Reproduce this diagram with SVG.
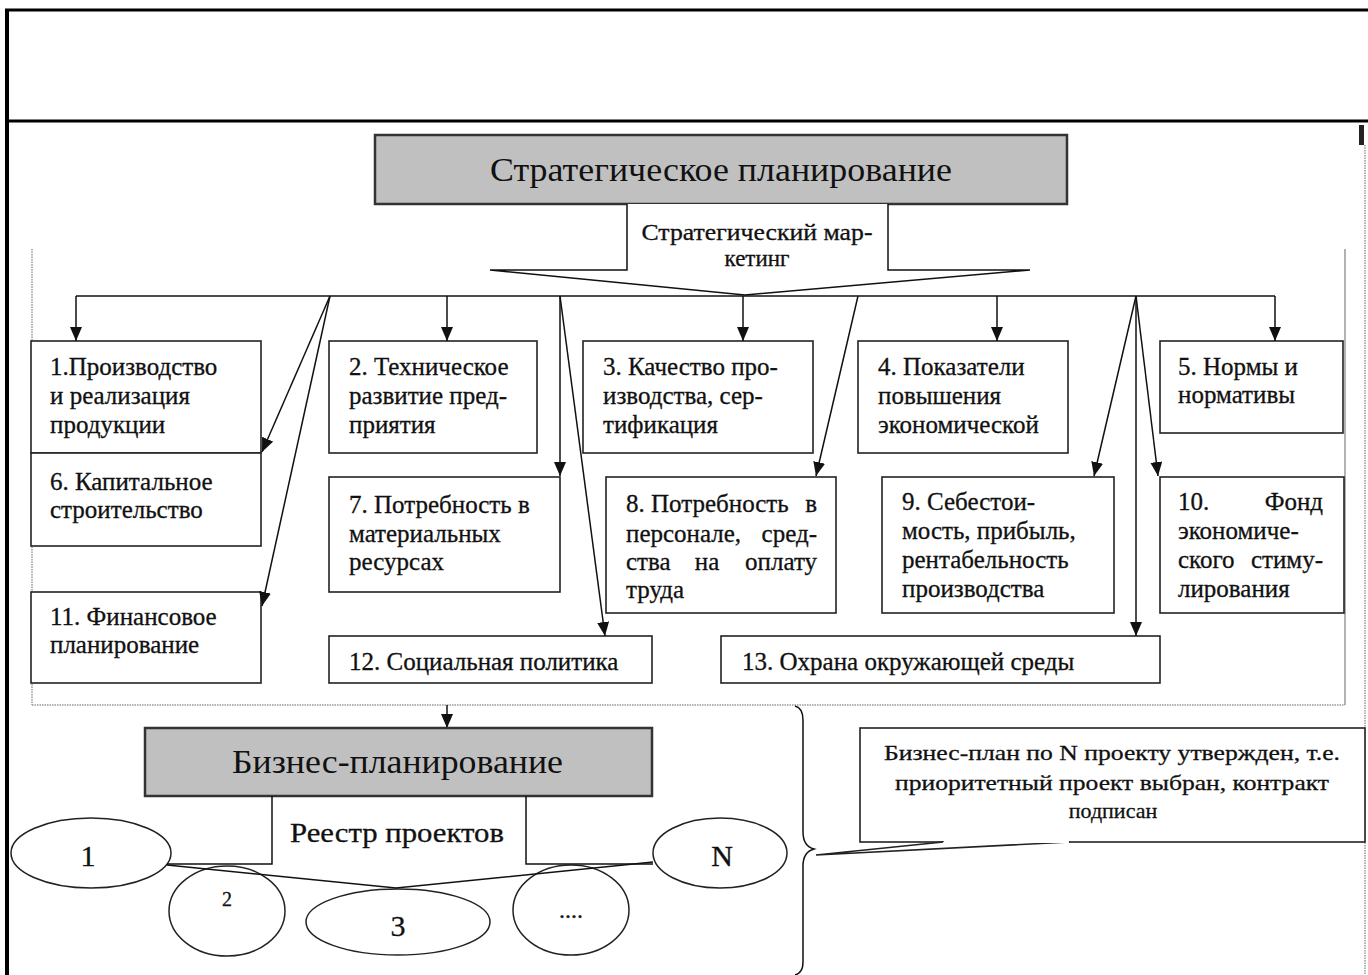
<svg xmlns="http://www.w3.org/2000/svg" width="1368" height="975" viewBox="0 0 1368 975">
<style>
.t{font-family:"Liberation Serif","Times New Roman",serif;fill:#111;font-size:25px;stroke:#111;stroke-width:0.3}
.big{font-size:34px;stroke-width:0}
.mk{font-size:23px}
.co{font-size:22px}
.box{fill:#fff;stroke:#222;stroke-width:1.6}
.gbox{fill:#c0c0c0;stroke:#333;stroke-width:2.5}
.ln{fill:none;stroke:#111;stroke-width:1.5}
.ell{fill:#fff;stroke:#222;stroke-width:1.5}
.dot{fill:none;stroke:#999;stroke-width:1.5;stroke-dasharray:1.5 1}
</style>
<defs>
<marker id="ah" viewBox="0 0 14 12" refX="14" refY="6" markerWidth="14" markerHeight="12" markerUnits="userSpaceOnUse" orient="auto">
<path d="M0,0 L14,6 L0,12 z" fill="#111"/>
</marker>
</defs>
<rect width="1368" height="975" fill="#fff"/>
<g id="frame">
<line x1="7" y1="10" x2="7" y2="975" stroke="#000" stroke-width="4"/>
<line x1="5" y1="10" x2="1368" y2="10" stroke="#000" stroke-width="3"/>
<line x1="5" y1="121" x2="1368" y2="121" stroke="#000" stroke-width="3"/>
<rect x="1359" y="125" width="5" height="20" fill="#222"/>
<line class="dot" x1="1365" y1="145" x2="1365" y2="975"/>
<line class="dot" x1="32" y1="249" x2="32" y2="705"/>
<line class="dot" x1="32" y1="705" x2="1345" y2="705"/>
<line x1="1345" y1="249" x2="1345" y2="705" stroke="#999" stroke-width="1.5"/>
</g>
<g id="strategic">
<rect class="gbox" x="375" y="135" width="692" height="69"/>
<text class="t big" x="490" y="181" textLength="462" lengthAdjust="spacingAndGlyphs">Стратегическое планирование</text>
</g>
<g id="marketing">
<path d="M627,204 V270 H490 L745,295 L1030,270 H888 V204" fill="#fff" stroke="#111" stroke-width="1.5"/>
<text class="t mk" x="757" y="240" text-anchor="middle" textLength="231" lengthAdjust="spacingAndGlyphs">Стратегический мар-</text>
<text class="t mk" x="757" y="266" text-anchor="middle">кетинг</text>
</g>
<g id="n1"><rect class="box" x="31" y="341" width="230" height="112"/>
<text class="t" x="50" y="375">1.Производство</text><text class="t" x="50" y="404">и реализация</text><text class="t" x="50" y="433">продукции</text></g>
<g id="n6"><rect class="box" x="31" y="453" width="230" height="93"/>
<text class="t" x="50" y="490">6. Капитальное</text><text class="t" x="50" y="518">строительство</text></g>
<g id="n11"><rect class="box" x="31" y="592" width="230" height="91"/>
<text class="t" x="50" y="625">11. Финансовое</text><text class="t" x="50" y="653">планирование</text></g>
<g id="n2"><rect class="box" x="329" y="341" width="208" height="112"/>
<text class="t" x="349" y="375">2. Техническое</text><text class="t" x="349" y="404">развитие пред-</text><text class="t" x="349" y="433">приятия</text></g>
<g id="n7"><rect class="box" x="329" y="477" width="231" height="115"/>
<text class="t" x="349" y="513">7. Потребность в</text><text class="t" x="349" y="542">материальных</text><text class="t" x="349" y="570">ресурсах</text></g>
<g id="n12"><rect class="box" x="329" y="636" width="323" height="47"/>
<text class="t" x="349" y="670">12. Социальная политика</text></g>
<g id="n3"><rect class="box" x="583" y="341" width="230" height="112"/>
<text class="t" x="603" y="375">3. Качество про-</text><text class="t" x="603" y="404">изводства, сер-</text><text class="t" x="603" y="433">тификация</text></g>
<g id="n8"><rect class="box" x="606" y="477" width="230" height="136"/>
<text class="t" x="626" y="512">8. Потребность</text><text class="t" x="817" y="512" text-anchor="end">в</text>
<text class="t" x="626" y="542">персонале,</text><text class="t" x="817" y="542" text-anchor="end">сред-</text>
<text class="t" x="626" y="570">ства</text><text class="t" x="707" y="570" text-anchor="middle">на</text><text class="t" x="817" y="570" text-anchor="end">оплату</text>
<text class="t" x="626" y="598">труда</text></g>
<g id="n13"><rect class="box" x="721" y="636" width="439" height="47"/>
<text class="t" x="742" y="670">13. Охрана окружающей среды</text></g>
<g id="n4"><rect class="box" x="858" y="341" width="210" height="112"/>
<text class="t" x="878" y="375">4. Показатели</text><text class="t" x="878" y="404">повышения</text><text class="t" x="878" y="433">экономической</text></g>
<g id="n9"><rect class="box" x="882" y="477" width="232" height="136"/>
<text class="t" x="902" y="510">9. Себестои-</text><text class="t" x="902" y="539">мость, прибыль,</text><text class="t" x="902" y="568">рентабельность</text><text class="t" x="902" y="597">производства</text></g>
<g id="n5"><rect class="box" x="1160" y="341" width="183" height="92"/>
<text class="t" x="1178" y="375">5. Нормы и</text><text class="t" x="1178" y="403">нормативы</text></g>
<g id="n10"><rect class="box" x="1160" y="477" width="184" height="136"/>
<text class="t" x="1178" y="510">10.</text><text class="t" x="1323" y="510" text-anchor="end">Фонд</text>
<text class="t" x="1178" y="539">экономиче-</text>
<text class="t" x="1178" y="568">ского</text><text class="t" x="1323" y="568" text-anchor="end">стиму-</text>
<text class="t" x="1178" y="597">лирования</text></g>
<g id="connectors">
<path class="ln" d="M76,296 H1275"/>
<path class="ln" d="M76,296 V341" marker-end="url(#ah)"/>
<path class="ln" d="M447,296 V341" marker-end="url(#ah)"/>
<path class="ln" d="M743,296 V341" marker-end="url(#ah)"/>
<path class="ln" d="M997,296 V341" marker-end="url(#ah)"/>
<path class="ln" d="M1275,296 V341" marker-end="url(#ah)"/>
<path class="ln" d="M330,296 L262,452" marker-end="url(#ah)"/>
<path class="ln" d="M330,296 L262,606" marker-end="url(#ah)"/>
<path class="ln" d="M560,296 V476" marker-end="url(#ah)"/>
<path class="ln" d="M560,296 L605,636" marker-end="url(#ah)"/>
<path class="ln" d="M858,296 L816,476" marker-end="url(#ah)"/>
<path class="ln" d="M1136,296 L1094,476" marker-end="url(#ah)"/>
<path class="ln" d="M1136,296 L1158,476" marker-end="url(#ah)"/>
<path class="ln" d="M1136,296 V636" marker-end="url(#ah)"/>
<path class="ln" d="M447,705 V728" marker-end="url(#ah)"/>
</g>
<g id="business">
<rect class="gbox" x="145" y="728" width="507" height="68"/>
<text class="t big" x="232" y="773" textLength="331" lengthAdjust="spacingAndGlyphs">Бизнес-планирование</text>
</g>
<g id="ellipses">
<ellipse class="ell" cx="91" cy="853" rx="80" ry="35"/>
<ellipse class="ell" cx="227" cy="911" rx="58" ry="45"/>
<ellipse class="ell" cx="398" cy="922" rx="92" ry="33"/>
<ellipse class="ell" cx="571" cy="910" rx="58" ry="45"/>
<ellipse class="ell" cx="720" cy="853" rx="67" ry="35"/>
<text class="t" x="88" y="866" text-anchor="middle" style="font-size:30px">1</text>
<text class="t" x="227" y="906" text-anchor="middle" style="font-size:20px">2</text>
<text class="t" x="398" y="936" text-anchor="middle" style="font-size:30px">3</text>
<text class="t" x="571" y="918" text-anchor="middle" style="font-size:24px">....</text>
<text class="t" x="722" y="866" text-anchor="middle" style="font-size:30px">N</text>
</g>
<g id="registry">
<path class="ln" d="M167,864 H272 V796 M526,796 V864 H653"/>
<path class="ln" d="M167,865 L396,888 L653,862"/>
<text class="t" x="290" y="842" textLength="214" lengthAdjust="spacingAndGlyphs" style="font-size:27px">Реестр проектов</text>
</g>
<g id="brace">
<path class="ln" d="M795,706 Q803,708 803,720 L803,832 Q803,846 814,849 Q803,852 803,866 L803,962 Q803,973 795,975"/>
</g>
<g id="callout">
<rect class="box" x="860" y="728" width="505" height="114"/>
<polyline points="943,842 816,855 1070,842" fill="#fff" stroke="#222" stroke-width="1.6"/>
<line x1="944" y1="842" x2="1069" y2="842" stroke="#fff" stroke-width="2"/>
<text class="t co" x="1112" y="760" text-anchor="middle" textLength="456" lengthAdjust="spacingAndGlyphs">Бизнес-план по N проекту утвержден, т.е.</text>
<text class="t co" x="1112" y="790" text-anchor="middle" textLength="434" lengthAdjust="spacingAndGlyphs">приоритетный проект выбран, контракт</text>
<text class="t co" x="1113" y="818" text-anchor="middle">подписан</text>
</g>
</svg>
